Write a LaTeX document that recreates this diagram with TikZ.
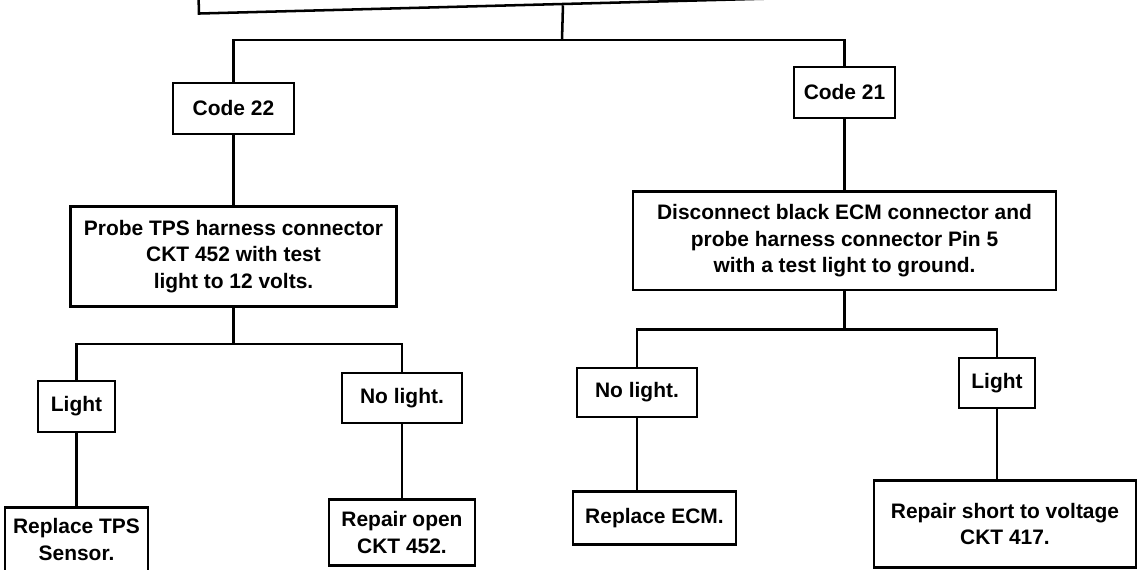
\documentclass[tikz,border=0pt]{standalone}
\usepackage{fontspec}
\setmainfont{Liberation Sans}
\usetikzlibrary{positioning}
\tikzset{%
  branch/.style = {solid,line width=1.8pt},
  bx/.style = {rectangle,draw,solid,line width=1.8pt,align=center,
        inner sep=2pt,font=\bfseries\fontsize{14.9}{19}\selectfont}
}

\begin{document}
\begin{tikzpicture}[x=0.025cm,y=-0.025cm]
   \useasboundingbox (0,0) rectangle (1140,570);
   \clip (0,0) rectangle (1140,570);

   \node[bx,minimum width=18.2cm,minimum height=1.8cm,rotate=1.5] (top) at (562,-32) {};

   \node[bx,minimum width=3.025cm,minimum height=1.275cm] (code22) at (233.5,108.5) {Code 22};
   \node[bx,minimum width=2.525cm,minimum height=1.275cm] (code21) at (844.5,92.5) {Code 21};

   \node[bx,minimum width=8.15cm,minimum height=2.5cm] (probe) [below=1.75cm of code22]
      {Probe TPS harness connector\\ CKT 452 with test\\ light to 12 volts.};
   \node[bx,minimum width=10.575cm,minimum height=2.46cm] (disconnect) [below=1.775cm of code21]
      {Disconnect black ECM connector and\\ probe harness connector Pin 5\\ with a test light to ground.};

   \node[bx,minimum width=1.925cm,minimum height=1.275cm] (light1) at (76.5,406.5) {Light};
   \node[bx,minimum width=3cm,minimum height=1.25cm] (nolight1) at (402,398) {No light.};
   \node[bx,minimum width=3cm,minimum height=1.225cm] (nolight2) at (637,392.5) {No light.};
   \node[bx,minimum width=1.9cm,minimum height=1.25cm] (light2) at (997,383) {Light};

   \node[bx,minimum width=3.575cm,minimum height=1.6cm] (tps) [below=1.825cm of light1]
      {Replace TPS\\ Sensor.};
   \node[bx,minimum width=3.65cm,minimum height=1.65cm] (open) [below=1.85cm of nolight1]
      {Repair open\\ CKT 452.};
   \node[bx,minimum width=4.075cm,minimum height=1.325cm] (ecm) [below=1.8cm of nolight2, xshift=0.4375cm]
      {Replace ECM.};
   \node[bx,minimum width=6.55cm,minimum height=2.175cm] (short) [below=1.75cm of light2, xshift=0.2cm]
      {Repair short to voltage\\ CKT 417.};

   \coordinate (split1) at (562,40);
   \coordinate[below=0.9cm of probe] (split2);
   \coordinate[below=0.95cm of disconnect] (split3);

   \draw[branch] (top.south) -- (split1);
   \draw[branch] (code22.north) |- (split1) -| (code21.north);
   \draw[branch] (code22) -- (probe);
   \draw[branch] (code21) -- (disconnect);

   \draw[branch] (probe.south) -- (split2);
   \draw[branch] (light1.north) |- (split2) -| (nolight1.north);
   \draw[branch] (disconnect.south) -- (split3);
   \draw[branch] (nolight2.north) |- (split3) -| (light2.north);

   \draw[branch] (light1) -- (tps);
   \draw[branch] (nolight1) -- (open);
   \draw[branch] (nolight2.south) -- (nolight2.south |- ecm.north);
   \draw[branch] (light2.south) -- (light2.south |- short.north);
\end{tikzpicture}
\end{document}
